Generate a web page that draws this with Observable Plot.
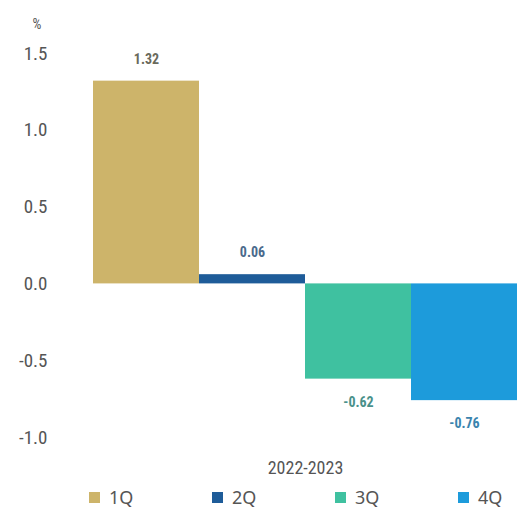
<!DOCTYPE html>
<html>
<head>
<meta charset="utf-8">
<script src="https://cdn.jsdelivr.net/npm/d3@7"></script>
<script src="https://cdn.jsdelivr.net/npm/@observablehq/plot@0.6"></script>
<style>
  html, body { margin: 0; padding: 0; background: #fff; }
  body { width: 518px; height: 515px; overflow: hidden; font-family: "Roboto Condensed", "DejaVu Sans Condensed", "DejaVu Sans", sans-serif; font-stretch: condensed; }
  #legend { position: relative; height: 30px; }
  .leg-swatches { margin-left: 89px !important; min-height: 0 !important; flex-wrap: nowrap !important; }
  .leg-swatches .leg-swatch { display: inline-flex !important; width: 123px !important; min-width: 123px !important; flex: 0 0 123px !important; margin: 0 !important; font-size: 18px; color: #555; }
</style>
</head>
<body>
<div id="chart"></div>
<div id="legend"></div>
<script>
const quarters = ["1Q", "2Q", "3Q", "4Q"];
const values = [1.32, 0.06, -0.62, -0.76];
const barColors = ["#CDB46A", "#1E5C99", "#3FC1A0", "#1D9BDB"];
const labelColors = ["#6A6A5C", "#4A6A8C", "#4A918A", "#3A84AE"];
const yTicks = [-1.0, -0.5, 0.0, 0.5, 1.0, 1.5];
const periodLabel = "2022-2023";
const unitLabel = "%";

const FONT = '"Roboto Condensed", "DejaVu Sans Condensed", "DejaVu Sans", sans-serif';
const data = quarters.map((q, i) => ({q, v: values[i], lc: labelColors[i]}));

const chart = Plot.plot({
  width: 518,
  height: 485,
  marginLeft: 93,
  marginRight: 1,
  marginTop: 53,
  marginBottom: 48,
  style: {fontFamily: FONT, background: "#fff", fontStretch: "condensed"},
  x: {domain: quarters, padding: 0, axis: null},
  y: {domain: [-1.0, 1.5], axis: null},
  color: {domain: quarters, range: barColors},
  marks: [
    Plot.barY(data, {x: "q", y: "v", fill: "q"}),
    Plot.text(data.filter(d => d.v >= 0), {x: "q", y: "v", text: d => d.v.toFixed(2), fill: "lc", dy: -22, fontSize: 14, fontWeight: "bold"}),
    Plot.text(data.filter(d => d.v < 0), {x: "q", y: "v", text: d => d.v.toFixed(2), fill: "lc", dy: 23, fontSize: 14, fontWeight: "bold"}),
    Plot.axisY({ticks: yTicks, tickSize: 0, tickPadding: 46, tickFormat: d => d.toFixed(1), fontSize: 19, color: "#555", label: null}),
    Plot.axisX({ticks: [], tickSize: 0, label: periodLabel, labelAnchor: "center", labelOffset: 36, fontSize: 18, color: "#555"}),
    Plot.text([unitLabel], {frameAnchor: "top-left", dx: -61, dy: -34, fontSize: 14, fill: "#555"})
  ]
});
document.getElementById("chart").appendChild(chart);

const leg = Plot.legend({color: {domain: quarters, range: barColors, type: "ordinal"}, legend: "swatches", swatchSize: 11, className: "leg"});
document.getElementById("legend").appendChild(leg);
</script>
</body>
</html>
